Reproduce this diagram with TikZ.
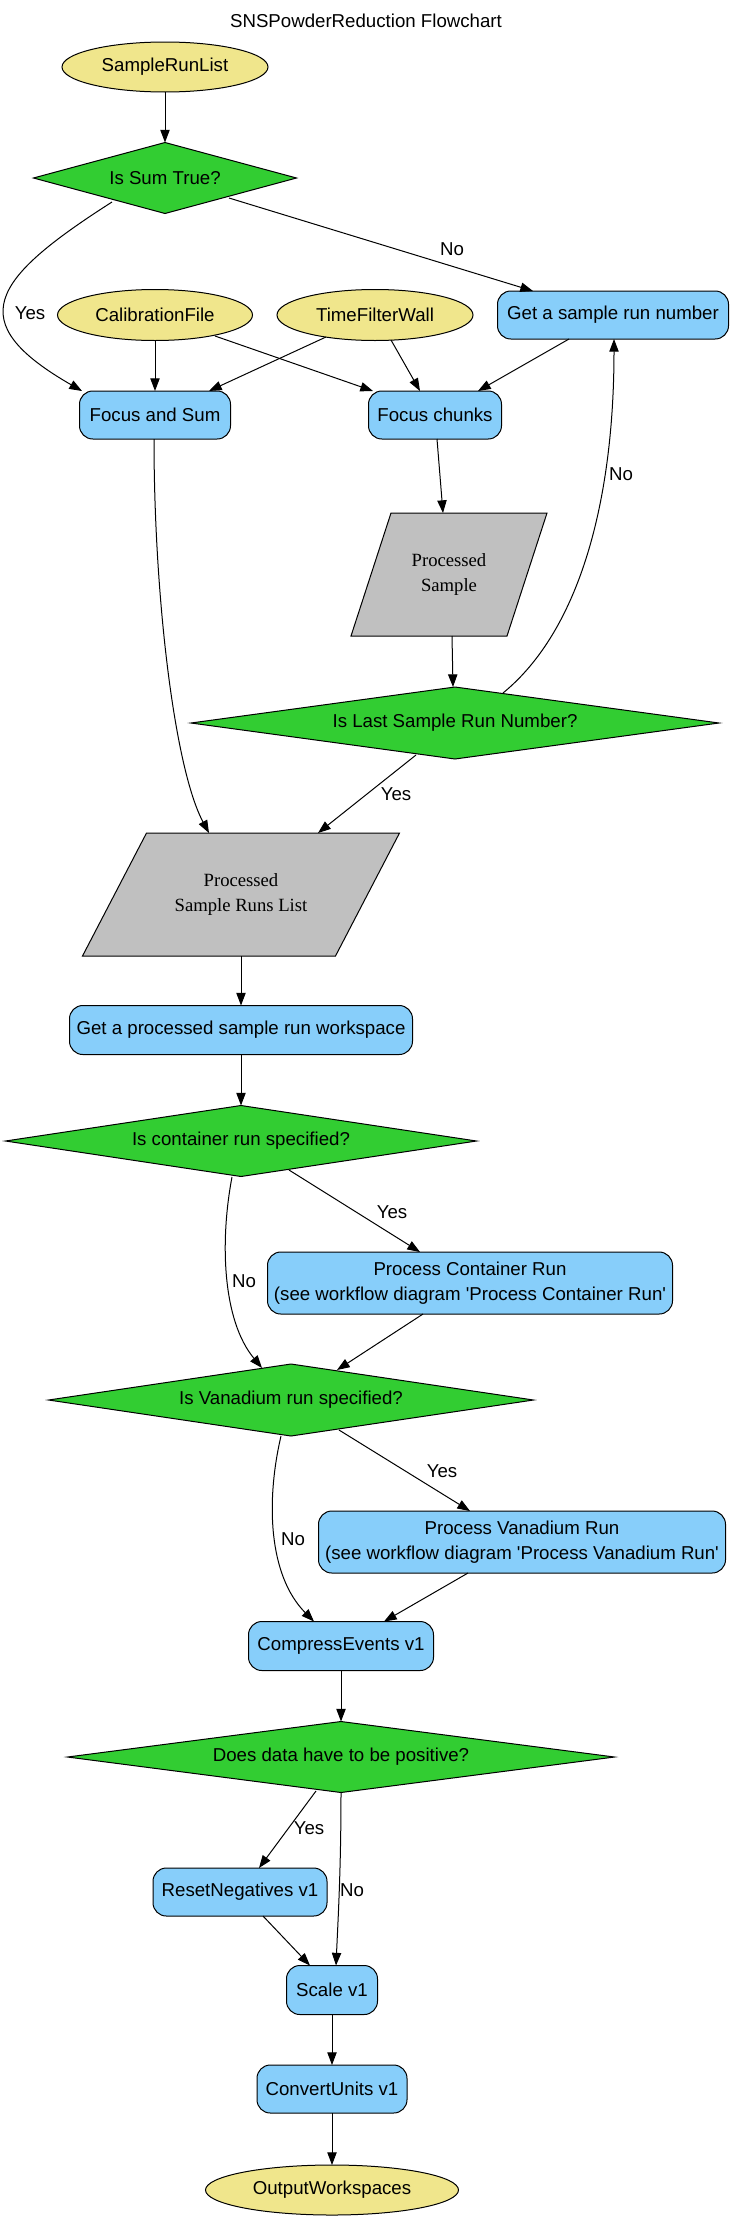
\documentclass[tikz,border=0pt]{standalone}
\usepackage{fontspec}
\setmainfont{Liberation Sans}
\newfontfamily\timesfont{Liberation Serif}
\usetikzlibrary{shapes.geometric,arrows.meta,calc}
\pgfdeclarelayer{back}
\pgfdeclarelayer{bg}
\pgfsetlayers{back,bg,main}
\definecolor{khakiC}{HTML}{F0E68C}
\definecolor{skyC}{HTML}{87CEFA}
\definecolor{limeC}{HTML}{32CD32}
\definecolor{grayC}{HTML}{C0C0C0}
\tikzset{
  base/.style={font=\fontsize{14}{18.75}\selectfont, inner sep=0pt, outer sep=0pt, line width=0.75pt},
  ellnode/.style={base, ellipse, draw, fill=khakiC},
  boxnode/.style={base, rectangle, rounded corners=10pt, draw, fill=skyC, align=center},
  dianode/.style={base, diamond, draw, fill=limeC},
  paranode/.style={base, rectangle, align=center, font=\timesfont\fontsize{14}{18.75}\selectfont},
  parashape/.style={draw, fill=grayC, line width=0.75pt},
  edge/.style={line width=0.75pt, -{Triangle[length=9.5pt,width=7pt]}},
  lbl/.style={font=\fontsize{14}{18.75}\selectfont, inner sep=0pt},
}
\begin{document}
\begin{tikzpicture}[x=0.75pt,y=-0.75pt]
\useasboundingbox (0,0) rectangle (730,2220);
\begin{pgfonlayer}{back}
\fill[white] (0,0) rectangle (730,2220);
\end{pgfonlayer}

\node[lbl] (title) at (366,21) {SNSPowderReduction Flowchart};

% nodes
\node[ellnode, minimum width=154.5pt, minimum height=37.5pt] (srl) at (165,67) {\makebox[0pt]{SampleRunList}};
\node[dianode, minimum width=197.25pt, minimum height=53.25pt] (sum) at (165,178) {\makebox[0pt]{Is Sum True?}};
\node[ellnode, minimum width=146.25pt, minimum height=38.25pt] (cal) at (155,315) {\makebox[0pt]{CalibrationFile}};
\node[ellnode, minimum width=147pt, minimum height=38.25pt] (tfw) at (375,315) {\makebox[0pt]{TimeFilterWall}};
\node[boxnode, minimum width=173.25pt, minimum height=36pt] (gsr) at (613,315) {Get a sample run number};
\node[boxnode, minimum width=113.25pt, minimum height=36pt] (fas) at (155,415) {Focus and Sum};
\node[boxnode, minimum width=99.75pt, minimum height=36pt] (fc) at (435,415) {Focus chunks};
\node[paranode, minimum width=147pt, minimum height=92.25pt] (ps) at (449,574.5) {Processed\\Sample};
\node[dianode, minimum width=396pt, minimum height=54pt] (last) at (455,723) {\makebox[0pt]{Is Last Sample Run Number?}};
\node[paranode, minimum width=237.75pt, minimum height=92.25pt] (psrl) at (241,894.5) {Processed\\Sample Runs List};
\node[boxnode, minimum width=257.25pt, minimum height=36.75pt] (gpw) at (241,1030) {Get a processed sample run workspace};
\node[dianode, minimum width=353.25pt, minimum height=53.25pt] (cont) at (241,1141) {\makebox[0pt]{Is container run specified?}};
\node[boxnode, minimum width=303.75pt, minimum height=46.5pt] (pcr) at (470,1283) {Process Container Run\\(see workflow diagram \textquotesingle Process Container Run\textquotesingle};
\node[dianode, minimum width=363.75pt, minimum height=54pt] (van) at (291,1400) {\makebox[0pt]{Is Vanadium run specified?}};
\node[boxnode, minimum width=305.25pt, minimum height=46.5pt] (pvr) at (522,1542) {Process Vanadium Run\\(see workflow diagram \textquotesingle Process Vanadium Run\textquotesingle};
\node[boxnode, minimum width=138.75pt, minimum height=36.75pt] (ce) at (341,1646) {CompressEvents v1};
\node[dianode, minimum width=410.25pt, minimum height=53.25pt] (pos) at (341,1757) {\makebox[0pt]{Does data have to be positive?}};
\node[boxnode, minimum width=130.5pt, minimum height=36pt] (rn) at (240,1892) {ResetNegatives v1};
\node[boxnode, minimum width=68.25pt, minimum height=36.75pt] (sc) at (332,1990) {Scale v1};
\node[boxnode, minimum width=112.5pt, minimum height=36pt] (cu) at (332,2089) {ConvertUnits v1};
\node[ellnode, minimum width=189.75pt, minimum height=37.5pt] (ow) at (332,2190) {\makebox[0pt]{OutputWorkspaces}};

\begin{pgfonlayer}{bg}
\filldraw[parashape] ($(ps.north west)+(40,0)$) -- (ps.north east) -- ($(ps.south east)+(-40,0)$) -- (ps.south west) -- cycle;
\filldraw[parashape] ($(psrl.north west)+(64,0)$) -- (psrl.north east) -- ($(psrl.south east)+(-64,0)$) -- (psrl.south west) -- cycle;
\end{pgfonlayer}

% edges
\draw[edge] (srl.south) -- (sum.north);
\draw[edge] ($(sum)+(-53,24)$) .. controls (-10,280) and (-38,322) .. ($(fas)+(-73,-24)$);
\draw[edge] ($(sum)+(64,20)$) -- ($(gsr)+(-80,-24)$);
\draw[edge] (cal.south) -- (fas.north);
\draw[edge] ($(cal)+(60,21)$) -- ($(fc)+(-62,-24)$);
\draw[edge] ($(tfw)+(-49,22)$) -- ($(fas)+(54,-24)$);
\draw[edge] ($(tfw)+(16,25)$) -- ($(fc)+(-15,-24)$);
\draw[edge] ($(gsr)+(-44,24)$) -- ($(fc)+(43,-24)$);
\draw[edge] ($(fas)+(-1,24)$) .. controls (154,600) and (175,770) .. ($(psrl)+(-32,-61.5)$);
\draw[edge] ($(fc)+(2,24)$) -- ($(ps)+(-6,-61.5)$);
\draw[edge] ($(ps)+(3,61.5)$) -- ($(last)+(-2,-36)$);
\draw[edge] ($(last)+(48,-30)$) .. controls (580,630) and (614,500) .. ($(gsr)+(1,24)$);
\draw[edge] ($(last)+(-39,32)$) -- ($(psrl)+(77,-61.5)$);
\draw[edge] (psrl.south) -- (gpw.north);
\draw[edge] (gpw.south) -- (cont.north);
\draw[edge] ($(cont)+(48,29)$) -- ($(pcr)+(-50,-31)$);
\draw[edge] ($(cont)+(-9,36)$) .. controls (220,1240) and (222,1320) .. ($(van)+(-29,-32)$);
\draw[edge] ($(pcr)+(-47,31)$) -- ($(van)+(46,-30)$);
\draw[edge] ($(van)+(48,30)$) -- ($(pvr)+(-52,-31)$);
\draw[edge] ($(van)+(-10,36)$) .. controls (266,1500) and (268,1575) .. ($(ce)+(-27,-24.5)$);
\draw[edge] ($(pvr)+(-54,31)$) -- ($(ce)+(43,-24.5)$);
\draw[edge] (ce.south) -- (pos.north);
\draw[edge] ($(pos)+(-25,34)$) -- ($(rn)+(19,-24)$);
\draw[edge] (pos.south) .. controls (341,1870) and (338,1920) .. ($(sc)+(4,-24.5)$);
\draw[edge] ($(rn)+(23,24)$) -- ($(sc)+(-22,-24.5)$);
\draw[edge] (sc.south) -- (cu.north);
\draw[edge] (cu.south) -- (ow.north);

% labels
\node[lbl] (l1) at (30,313) {Yes};
\node[lbl] (l2) at (452,249) {No};
\node[lbl] (l3) at (621,474) {No};
\node[lbl] (l4) at (396,794) {Yes};
\node[lbl] (l5) at (392,1212) {Yes};
\node[lbl] (l6) at (244,1281) {No};
\node[lbl] (l7) at (442,1471) {Yes};
\node[lbl] (l8) at (293,1539) {No};
\node[lbl] (l9) at (309,1828) {Yes};
\node[lbl] (l10) at (352,1890) {No};
\end{tikzpicture}
\end{document}
